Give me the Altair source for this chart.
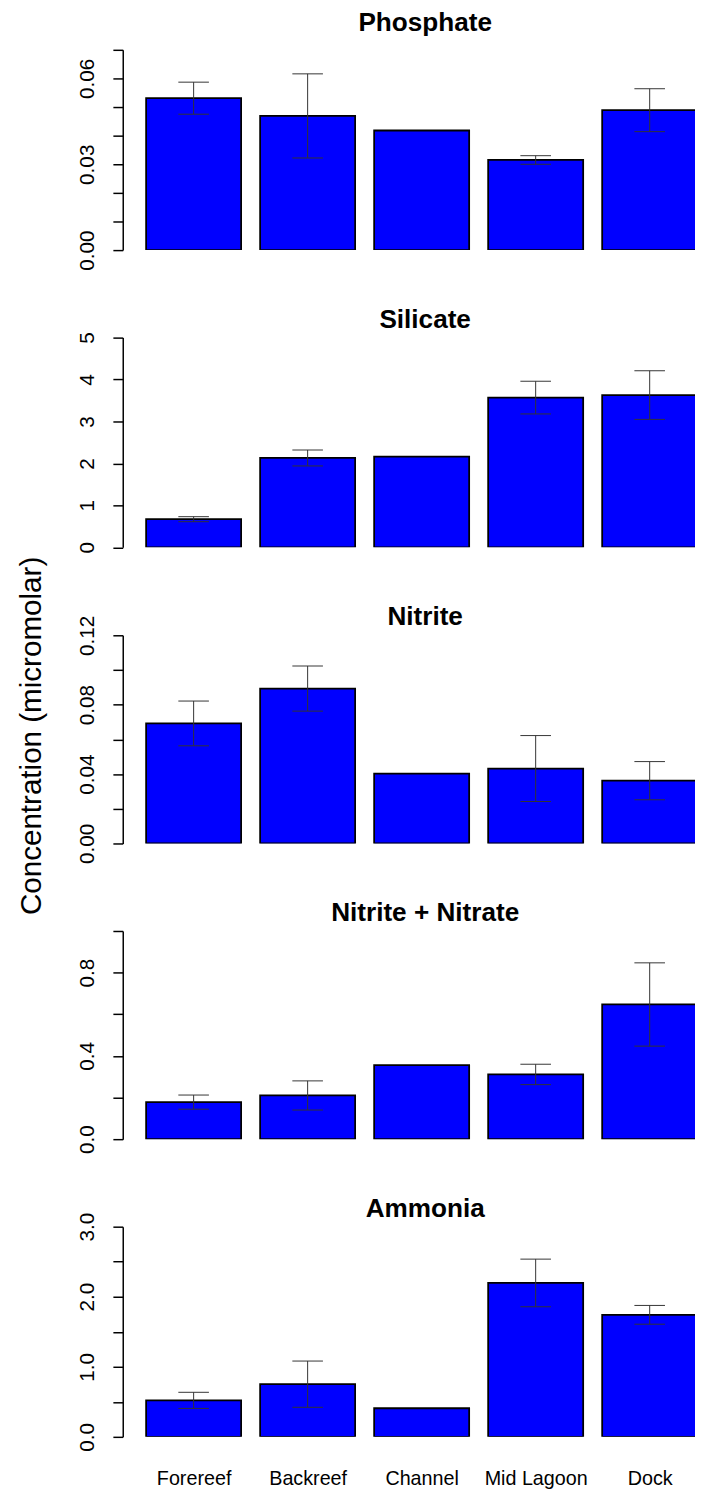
import altair as alt
import pandas as pd

FONT = "Liberation Sans"

categories = ["Forereef", "Backreef", "Channel", "Mid Lagoon", "Dock"]
nutrients = ["Phosphate", "Silicate", "Nitrite", "Nitrite + Nitrate", "Ammonia"]

phosphate_mean = [0.0531, 0.0469, 0.0418, 0.0315, 0.0489]
phosphate_se = [0.0056, 0.0147, None, 0.0015, 0.0075]

silicate_mean = [0.67, 2.13, 2.16, 3.57, 3.63]
silicate_se = [0.06, 0.19, None, 0.39, 0.58]

nitrite_mean = [0.0692, 0.0893, 0.0402, 0.0432, 0.0362]
nitrite_se = [0.0129, 0.013, None, 0.019, 0.011]

nn_mean = [0.178, 0.210, 0.356, 0.311, 0.647]
nn_se = [0.034, 0.07, None, 0.049, 0.20]

ammonia_mean = [0.521, 0.752, 0.408, 2.197, 1.742]
ammonia_se = [0.115, 0.33, None, 0.34, 0.134]

phosphate_ticks = [0, 0.01, 0.02, 0.03, 0.04, 0.05, 0.06, 0.07]
phosphate_labels = ["0.00", "0.03", "0.06"]
silicate_ticks = [0, 1, 2, 3, 4, 5]
silicate_labels = ["0", "1", "2", "3", "4", "5"]
nitrite_ticks = [0, 0.02, 0.04, 0.06, 0.08, 0.10, 0.12]
nitrite_labels = ["0.00", "0.04", "0.08", "0.12"]
nn_ticks = [0, 0.2, 0.4, 0.6, 0.8, 1.0]
nn_labels = ["0.0", "0.4", "0.8"]
ammonia_ticks = [0, 0.5, 1.0, 1.5, 2.0, 2.5, 3.0]
ammonia_labels = ["0.0", "1.0", "2.0", "3.0"]

y_title = "Concentration (micromolar)"

# layout (R barplot style: width 1, space 0.2)
X_DOMAIN = [-0.046, 5.977]
PLOT_W = 580
CAP_W = 31

panels_spec = [
    ("Phosphate", phosphate_mean, phosphate_se, phosphate_ticks, phosphate_labels, ".2f", 203, 19.7),
    ("Silicate", silicate_mean, silicate_se, silicate_ticks, silicate_labels, "d", 212.5, 10.2),
    ("Nitrite", nitrite_mean, nitrite_se, nitrite_ticks, nitrite_labels, ".2f", 211, 11.2),
    ("Nitrite + Nitrate", nn_mean, nn_se, nn_ticks, nn_labels, ".1f", 211, 10.2),
    ("Ammonia", ammonia_mean, ammonia_se, ammonia_ticks, ammonia_labels, ".1f", 213, 10.7),
]

lefts = [0.2 + 1.2 * i for i in range(len(categories))]
centers = [l + 0.5 for l in lefts]


def make_panel(idx, name, mean, se, ticks, shown, fmt, h, toff):
    df = pd.DataFrame({
        "category": categories,
        "mean": mean,
        "se": se,
        "left": lefts,
        "right": [l + 1 for l in lefts],
        "center": centers,
    })
    df["base"] = 0.0
    err = df.dropna(subset=["se"]).copy()
    err["lo"] = err["mean"] - err["se"]
    err["hi"] = err["mean"] + err["se"]

    xs = alt.Scale(domain=X_DOMAIN, nice=False, zero=False)
    ys = alt.Scale(domain=[0, ticks[-1]], nice=False, zero=True)

    shown_js = "[" + ",".join("'%s'" % s for s in shown) + "]"
    yaxis_kw = dict(
        values=ticks, format=fmt,
        labelExpr="indexof(%s, datum.label) >= 0 ? datum.label : ''" % shown_js,
        labelAngle=270, labelAlign="center", labelBaseline="alphabetic",
        labelFontSize=21, labelFont=FONT, labelColor="black",
        labelPadding=20, tickSize=10, tickWidth=1.5, tickColor="black",
        domainWidth=1.5, domainColor="black", grid=False,
        labelOverlap=False, labelFlush=False, labelBound=False,
    )
    if idx == 2:
        yaxis_kw.update(
            title=y_title, titleFontSize=30, titleFontWeight="normal",
            titleFont=FONT, titleColor="black", titleAngle=270,
            titleAlign="center", titleBaseline="middle",
            titleX=-92, titleY=101.5,
        )
    else:
        yaxis_kw.update(title=None)
    yaxis = alt.Axis(**yaxis_kw)

    # x axis: carries the panel title (placed above the plot) and,
    # on the last panel, the site labels
    xaxis_kw = dict(
        orient="bottom", title=name, titleFontSize=26.5, titleFontWeight="bold",
        titleFont=FONT, titleColor="black", titleAlign="center",
        titleBaseline="alphabetic", titleX=PLOT_W / 2 + 16, titleY=-(h + toff),
        grid=False, domain=False, ticks=False, tickSize=0,
    )
    if idx == len(panels_spec) - 1:
        cats_js = "[" + ",".join("'%s'" % c for c in categories) + "]"
        xaxis_kw.update(
            values=centers,
            labelExpr="%s[round((datum.value - 0.7) / 1.2)]" % cats_js,
            labelFontSize=20, labelFont=FONT, labelColor="black",
            labelBaseline="alphabetic", labelPadding=48, labelAlign="center",
            labelOverlap=False, labelFlush=False, labelBound=False,
        )
    else:
        xaxis_kw.update(labels=False, values=centers)
    xaxis = alt.Axis(**xaxis_kw)

    bars = alt.Chart(df).mark_bar(
        fill="#0000ff", stroke="black", strokeWidth=1.8, clip=True
    ).encode(
        x=alt.X("left:Q", scale=xs, axis=xaxis),
        x2="right",
        y=alt.Y("mean:Q", scale=ys, axis=yaxis),
        y2="base",
    )
    rule = alt.Chart(err).mark_rule(color="#333333", strokeWidth=1).encode(
        x=alt.X("center:Q", scale=xs, axis=xaxis),
        y=alt.Y("lo:Q", scale=ys, axis=yaxis),
        y2="hi",
    )
    cap_hi = alt.Chart(err).mark_tick(
        orient="horizontal", size=CAP_W, thickness=1, color="#333333", opacity=1
    ).encode(
        x=alt.X("center:Q", scale=xs, axis=xaxis),
        y=alt.Y("hi:Q", scale=ys, axis=yaxis),
    )
    cap_lo = alt.Chart(err).mark_tick(
        orient="horizontal", size=CAP_W, thickness=1, color="#333333", opacity=1
    ).encode(
        x=alt.X("center:Q", scale=xs, axis=xaxis),
        y=alt.Y("lo:Q", scale=ys, axis=yaxis),
    )
    return alt.layer(bars, rule, cap_hi, cap_lo).properties(width=PLOT_W, height=h)


panels = [make_panel(i, *spec) for i, spec in enumerate(panels_spec)]

chart = alt.vconcat(*panels, spacing=88.7, bounds="flush").resolve_scale(
    y="independent", x="independent"
).properties(
    padding={"left": 8.3, "top": -8.7, "right": 0, "bottom": 0},
    background="white",
).configure_view(stroke=None)

chart.save("out.html", embed_options={"renderer": "svg", "actions": False})
